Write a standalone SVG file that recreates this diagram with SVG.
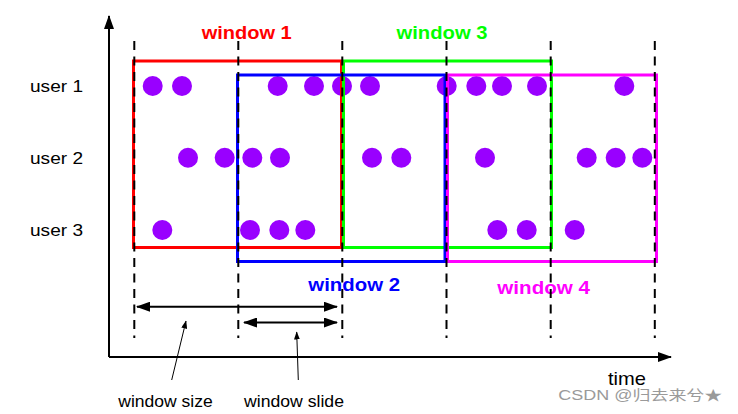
<svg xmlns="http://www.w3.org/2000/svg" width="738" height="414" viewBox="0 0 738 414">
<defs>
<style>
.dot{fill:#9900ff}
.win{fill:none;stroke-width:3}
.dash{stroke:#000;stroke-width:2;stroke-dasharray:9 6.5;fill:none}
.axis{stroke:#000;stroke-width:2;fill:none}
.lbl{font-family:"Liberation Sans",Arial,sans-serif;font-size:17px;fill:#000}
.wl{font-family:"Liberation Sans",Arial,sans-serif;font-size:19px;font-weight:bold}
.thin{stroke:#000;stroke-width:1;fill:none}
.meas{stroke:#000;stroke-width:2;fill:none}
</style>
<marker id="ah" viewBox="0 0 14 10" refX="13" refY="5" markerWidth="14" markerHeight="10" markerUnits="userSpaceOnUse" orient="auto-start-reverse">
<path d="M0,0 L14,5 L0,10 z" fill="#000"/>
</marker>
<marker id="axh" viewBox="0 0 14 10" refX="13" refY="5" markerWidth="14" markerHeight="10" markerUnits="userSpaceOnUse" orient="auto">
<path d="M0,0 L14,5 L0,10 z" fill="#000"/>
</marker>
<marker id="sh" viewBox="0 0 8 6" refX="7.5" refY="3" markerWidth="8" markerHeight="6" markerUnits="userSpaceOnUse" orient="auto">
<path d="M0,0 L8,3 L0,6 z" fill="#000"/>
</marker>
</defs>
<rect width="738" height="414" fill="#fff"/>

<g id="axes">
<line class="axis" x1="109" y1="357" x2="109" y2="16" marker-end="url(#axh)"/>
<line class="axis" x1="109" y1="357" x2="671" y2="357" marker-end="url(#axh)"/>
</g>

<g id="user-labels">
<text class="lbl" x="30" y="91.5" textLength="53" lengthAdjust="spacingAndGlyphs">user 1</text>
<text class="lbl" x="30" y="163.5" textLength="53" lengthAdjust="spacingAndGlyphs">user 2</text>
<text class="lbl" x="30" y="236" textLength="53" lengthAdjust="spacingAndGlyphs">user 3</text>
</g>

<g id="events">
<circle class="dot" cx="152.7" cy="86" r="10"/>
<circle class="dot" cx="182" cy="86" r="10"/>
<circle class="dot" cx="277.7" cy="86" r="10"/>
<circle class="dot" cx="314" cy="86" r="10"/>
<circle class="dot" cx="342" cy="86" r="10"/>
<circle class="dot" cx="370" cy="86" r="10"/>
<circle class="dot" cx="446.7" cy="86" r="10"/>
<circle class="dot" cx="476.3" cy="86" r="10"/>
<circle class="dot" cx="502" cy="86" r="10"/>
<circle class="dot" cx="537" cy="86" r="10"/>
<circle class="dot" cx="624.3" cy="86" r="10"/>

<circle class="dot" cx="188" cy="157.7" r="10"/>
<circle class="dot" cx="224.7" cy="157.7" r="10"/>
<circle class="dot" cx="252.3" cy="157.7" r="10"/>
<circle class="dot" cx="280" cy="157.7" r="10"/>
<circle class="dot" cx="372" cy="157.7" r="10"/>
<circle class="dot" cx="401.3" cy="157.7" r="10"/>
<circle class="dot" cx="485" cy="157.7" r="10"/>
<circle class="dot" cx="586.7" cy="157.7" r="10"/>
<circle class="dot" cx="615.7" cy="157.7" r="10"/>
<circle class="dot" cx="642.3" cy="157.7" r="10"/>

<circle class="dot" cx="162.3" cy="230" r="10"/>
<circle class="dot" cx="250" cy="230" r="10"/>
<circle class="dot" cx="279.3" cy="230" r="10"/>
<circle class="dot" cx="305.3" cy="230" r="10"/>
<circle class="dot" cx="497.3" cy="230" r="10"/>
<circle class="dot" cx="526.7" cy="230" r="10"/>
<circle class="dot" cx="574.7" cy="230" r="10"/>
</g>

<g id="window1">
<rect class="win" x="133.5" y="61" width="208" height="186.5" stroke="#ff0000"/>
<text class="wl" x="201.7" y="39" fill="#ff0000" textLength="90" lengthAdjust="spacingAndGlyphs">window 1</text>
</g>
<g id="window3">
<rect class="win" x="343.5" y="61" width="208" height="186.5" stroke="#00ff00"/>
<text class="wl" x="396.5" y="39" fill="#00ff00" textLength="91" lengthAdjust="spacingAndGlyphs">window 3</text>
</g>
<g id="window2">
<rect class="win" x="237.5" y="75" width="207.5" height="186.5" stroke="#0000ff"/>
<text class="wl" x="308.3" y="290.7" fill="#0000ff" textLength="91.7" lengthAdjust="spacingAndGlyphs">window 2</text>
</g>
<g id="window4">
<rect class="win" x="447.5" y="75" width="209" height="186.5" stroke="#ff00ff"/>
<text class="wl" x="497.3" y="294.3" fill="#ff00ff" textLength="92.7" lengthAdjust="spacingAndGlyphs">window 4</text>
</g>

<g id="ticks">
<line class="dash" x1="134.3" y1="41" x2="134.3" y2="338"/>
<line class="dash" x1="238.3" y1="41" x2="238.3" y2="338"/>
<line class="dash" x1="342.3" y1="41" x2="342.3" y2="338"/>
<line class="dash" x1="446.5" y1="41" x2="446.5" y2="338"/>
<line class="dash" x1="550.7" y1="41" x2="550.7" y2="338"/>
<line class="dash" x1="654.8" y1="41" x2="654.8" y2="338"/>
</g>

<g id="connectors">
<line class="meas" x1="137" y1="306.7" x2="337" y2="306.7" marker-start="url(#ah)" marker-end="url(#ah)"/>
<line class="meas" x1="244" y1="322.5" x2="337" y2="322.5" marker-start="url(#ah)" marker-end="url(#ah)"/>
<line class="thin" x1="171.7" y1="380" x2="186" y2="321" marker-end="url(#sh)"/>
<line class="thin" x1="298.3" y1="380" x2="296.7" y2="332" marker-end="url(#sh)"/>
</g>

<g id="bottom-labels">
<text class="lbl" x="118.3" y="406.7" textLength="94.4" lengthAdjust="spacingAndGlyphs">window size</text>
<text class="lbl" x="244" y="406.7" textLength="100" lengthAdjust="spacingAndGlyphs">window slide</text>
<text class="lbl" x="608" y="385" style="font-size:19px" textLength="38" lengthAdjust="spacingAndGlyphs">time</text>
</g>

<text x="558.3" y="400" font-family="'Liberation Sans','Noto Sans CJK SC',sans-serif" font-size="14" fill="#9a9a9a" textLength="164" lengthAdjust="spacingAndGlyphs">CSDN @归去来兮★</text>
</svg>
